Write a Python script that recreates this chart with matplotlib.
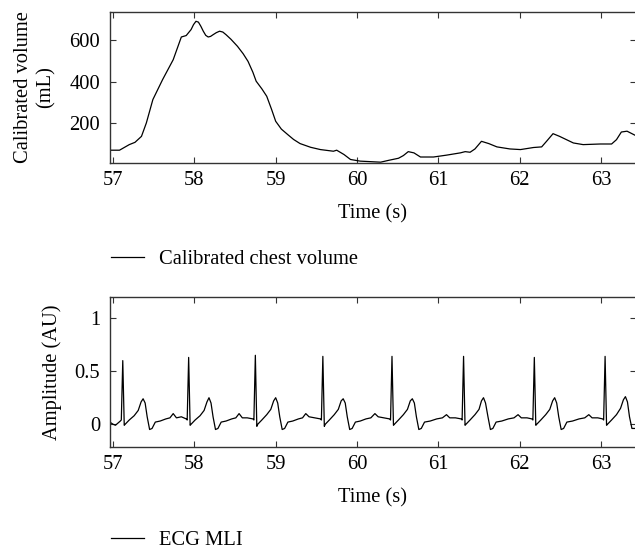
import matplotlib
matplotlib.use("Agg")
import matplotlib.pyplot as plt

plt.rcParams['font.family'] = ['Liberation Serif', 'DejaVu Serif']
plt.rcParams['font.size'] = 14.8

# calibrated chest volume (mL)
vol_t = [56.96, 57.08, 57.20, 57.27, 57.35, 57.41, 57.49, 57.61, 57.74, 57.84,
         57.90, 57.96, 57.99, 58.02, 58.05, 58.08, 58.11, 58.14, 58.17, 58.20,
         58.23, 58.27, 58.31, 58.35, 58.39, 58.45, 58.53, 58.60, 58.66, 58.72,
         58.76, 58.83, 58.89, 58.95, 59.00, 59.07, 59.15, 59.22, 59.30, 59.43,
         59.55, 59.71, 59.75, 59.84, 59.92, 60.04, 60.29, 60.39, 60.51, 60.57,
         60.63, 60.70, 60.78, 60.94, 61.10, 61.27, 61.33, 61.39, 61.45, 61.53,
         61.62, 61.72, 61.88, 62.01, 62.17, 62.27, 62.33, 62.41, 62.49, 62.66,
         62.78, 62.99, 63.13, 63.19, 63.25, 63.32, 63.43]
vol_v = [68, 68, 95, 106, 135, 200, 313, 410, 506, 616,
         623, 652, 676, 692, 688, 668, 644, 624, 616, 619,
         627, 637, 644, 640, 627, 605, 571, 535, 498, 445,
         402, 365, 329, 265, 208, 170, 143, 120, 100, 82,
         71, 63, 68, 47, 23, 15, 10, 19, 29, 42,
         61, 55, 35, 35, 44, 55, 61, 58, 74, 111,
         100, 84, 74, 71, 81, 84, 111, 148, 135, 103,
         95, 98, 98, 119, 156, 160, 138]

# ECG MLI (AU)
ecg_t = [56.96, 57.00, 57.03, 57.06, 57.09, 57.102,
         57.12, 57.138, 57.15, 57.20, 57.26, 57.31, 57.345, 57.37, 57.395, 57.42,
         57.45, 57.48, 57.52, 57.58, 57.65, 57.70, 57.74, 57.78, 57.84, 57.90, 57.912,
         57.93, 57.948, 57.96, 58.01, 58.07, 58.12, 58.155, 58.18, 58.205, 58.23,
         58.26, 58.29, 58.33, 58.39, 58.46, 58.51, 58.55, 58.59, 58.65, 58.72, 58.732,
         58.75, 58.768, 58.78, 58.83, 58.89, 58.94, 58.975, 59.00, 59.025, 59.05,
         59.08, 59.11, 59.15, 59.21, 59.28, 59.33, 59.37, 59.41, 59.48, 59.55, 59.562,
         59.58, 59.598, 59.61, 59.66, 59.72, 59.77, 59.805, 59.83, 59.855, 59.88,
         59.91, 59.94, 59.98, 60.04, 60.11, 60.17, 60.22, 60.26, 60.33, 60.40, 60.412,
         60.43, 60.448, 60.46, 60.51, 60.57, 60.62, 60.655, 60.68, 60.705, 60.73,
         60.76, 60.79, 60.83, 60.90, 60.98, 61.05, 61.10, 61.14, 61.21, 61.28, 61.292,
         61.31, 61.328, 61.34, 61.39, 61.45, 61.50, 61.53, 61.555, 61.58, 61.61,
         61.64, 61.67, 61.71, 61.78, 61.86, 61.93, 61.98, 62.02, 62.09, 62.15, 62.162,
         62.18, 62.198, 62.21, 62.26, 62.32, 62.37, 62.405, 62.43, 62.455, 62.48,
         62.51, 62.54, 62.58, 62.65, 62.73, 62.80, 62.85, 62.89, 62.96, 63.02, 63.032,
         63.05, 63.068, 63.08, 63.13, 63.19, 63.24, 63.275, 63.30, 63.325, 63.35,
         63.38, 63.43]
ecg_v = [0.02, 0.00, -0.01, 0.01, 0.03, 0.04,
         0.60, -0.01, 0.00, 0.04, 0.08, 0.13, 0.21, 0.24, 0.20, 0.07,
         -0.05, -0.04, 0.02, 0.03, 0.05, 0.06, 0.10, 0.06, 0.07, 0.05, 0.04,
         0.63, -0.01, 0.00, 0.04, 0.08, 0.13, 0.21, 0.25, 0.20, 0.07,
         -0.05, -0.04, 0.02, 0.03, 0.05, 0.06, 0.10, 0.06, 0.06, 0.05, 0.04,
         0.65, -0.02, 0.00, 0.04, 0.09, 0.14, 0.22, 0.25, 0.20, 0.07,
         -0.05, -0.04, 0.02, 0.03, 0.05, 0.06, 0.10, 0.07, 0.06, 0.05, 0.04,
         0.64, -0.02, 0.00, 0.04, 0.09, 0.14, 0.22, 0.24, 0.20, 0.07,
         -0.05, -0.04, 0.02, 0.03, 0.05, 0.06, 0.10, 0.07, 0.06, 0.05, 0.04,
         0.64, -0.01, 0.00, 0.04, 0.09, 0.14, 0.22, 0.24, 0.20, 0.07,
         -0.05, -0.04, 0.02, 0.03, 0.05, 0.06, 0.09, 0.06, 0.06, 0.05, 0.04,
         0.64, -0.01, 0.00, 0.04, 0.09, 0.14, 0.22, 0.25, 0.20, 0.07,
         -0.05, -0.04, 0.02, 0.03, 0.05, 0.06, 0.09, 0.06, 0.06, 0.05, 0.04,
         0.63, -0.01, 0.00, 0.04, 0.09, 0.14, 0.22, 0.25, 0.20, 0.07,
         -0.05, -0.04, 0.02, 0.03, 0.05, 0.06, 0.09, 0.06, 0.06, 0.05, 0.04,
         0.64, -0.01, 0.00, 0.04, 0.09, 0.15, 0.23, 0.26, 0.21, 0.07,
         -0.04, -0.04]

x_ticks = [57, 58, 59, 60, 61, 62, 63]
vol_ticks = [200, 400, 600]
ecg_ticks = [0, 0.5, 1]
ecg_tick_labels = ['0', '0.5', '1']

W, H = 635, 551
fig = plt.figure(figsize=(W / 100, H / 100), dpi=100)


def style(ax):
    for s in ax.spines.values():
        s.set_color('#333333')
        s.set_linewidth(1.0)
    ax.tick_params(direction='in', length=4, width=0.8, color='#333333',
                   top=True, right=True, labelsize=14.8)
    ax.tick_params(axis='y', pad=7)
    ax.tick_params(axis='x', pad=6)
    ax.set_xlim(56.963, 63.43)
    ax.set_xticks(x_ticks)
    ax.set_xlabel('Time (s)', labelpad=10)


# top panel: chest volume
ax1 = fig.add_axes([110 / W, 1 - 163 / H, 526 / W, 151 / H])
ax1.plot(vol_t, vol_v, color='black', lw=0.9, label='Calibrated chest volume')
style(ax1)
ax1.set_ylim(6, 737)
ax1.set_yticks(vol_ticks)
ax1.set_ylabel('Calibrated volume\n(mL)', labelpad=10, linespacing=1.25)

# bottom panel: ECG
ax2 = fig.add_axes([110 / W, 1 - 447 / H, 526 / W, 150 / H])
ax2.plot(ecg_t, ecg_v, color='black', lw=0.9, label='ECG MLI')
style(ax2)
ax2.set_ylim(-0.215, 1.2)
ax2.set_yticks(ecg_ticks)
ax2.set_yticklabels(ecg_tick_labels)
ax2.set_ylabel('Amplitude (AU)', labelpad=9)

for ax, ypix in [(ax1, 259), (ax2, 540)]:
    ax.legend(loc='center left', bbox_to_anchor=(111 / W, 1 - ypix / H),
              bbox_transform=fig.transFigure, frameon=False, fontsize=14.8,
              handlelength=1.6, handletextpad=0.75, borderpad=0, borderaxespad=0)

fig.savefig('out.png', dpi=100)
